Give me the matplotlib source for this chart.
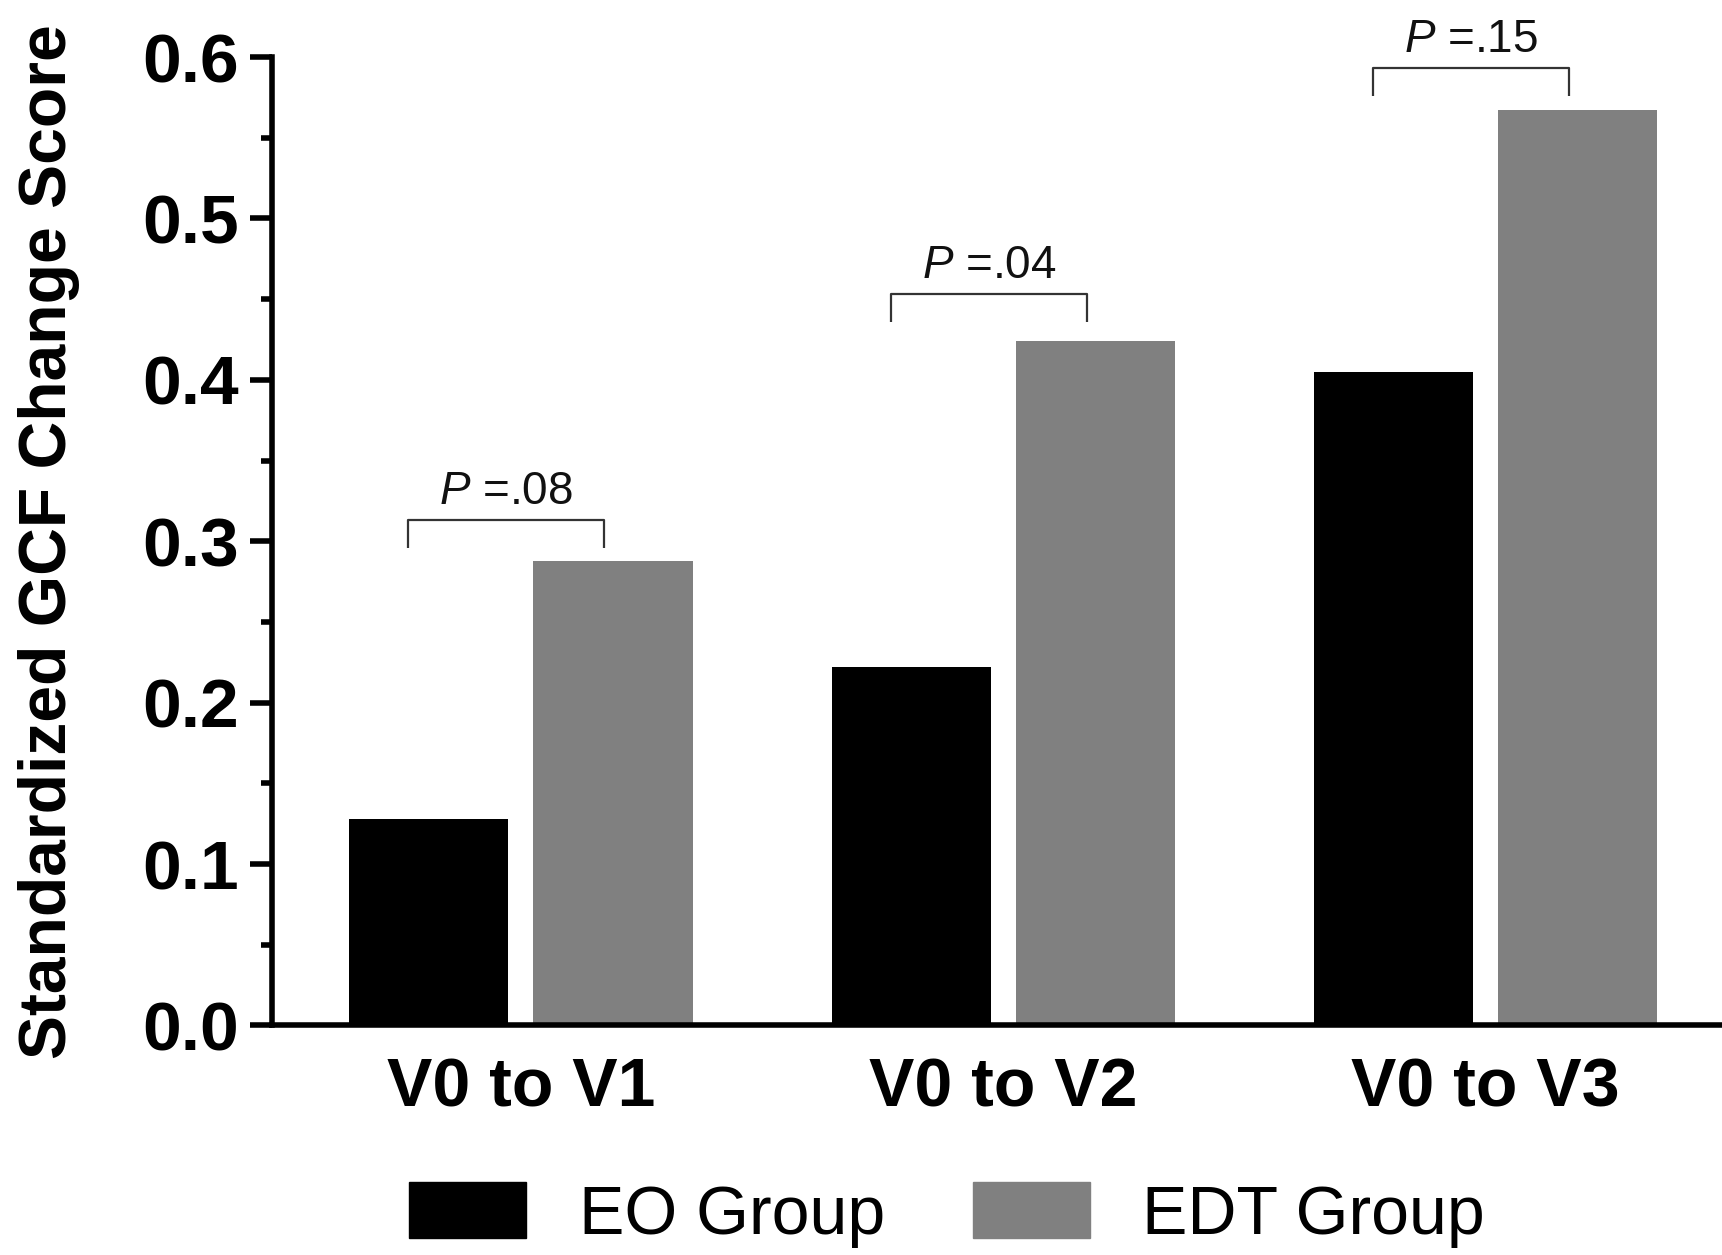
import numpy as np
import matplotlib
matplotlib.use('Agg')
import matplotlib.pyplot as plt
from matplotlib.ticker import MultipleLocator
from matplotlib.patches import Patch

plt.rcParams['font.family'] = ['Liberation Sans', 'DejaVu Sans']
plt.rcParams['mathtext.fontset'] = 'custom'
plt.rcParams['mathtext.it'] = 'Liberation Sans:italic'
plt.rcParams['mathtext.rm'] = 'Liberation Sans'

groups = ['V0 to V1', 'V0 to V2', 'V0 to V3']
eo_values = [0.128, 0.222, 0.405]
edt_values = [0.288, 0.424, 0.567]
p_labels = ['.08', '.04', '.15']
bracket_tops = [0.313, 0.453, 0.593]
y_ticks = [0.0, 0.1, 0.2, 0.3, 0.4, 0.5, 0.6]

fig = plt.figure(figsize=(17.22, 12.55), dpi=100)
ax = fig.add_axes([0.1582, 0.1829, 0.8418, 0.7716])

x = np.arange(len(groups))
bar_width = 0.33
offset = 0.191

ax.bar(x - offset, eo_values, width=bar_width, color='black', label='EO Group')
ax.bar(x + offset, edt_values, width=bar_width, color='#808080', label='EDT Group')

# significance brackets
for xi, top, p in zip(x, bracket_tops, p_labels):
    left = xi - 0.233
    right = xi + 0.173
    drop = 0.017
    ax.plot([left, left, right, right], [top - drop, top, top, top - drop],
            color='#333333', lw=1.6, solid_capstyle='butt')
    ax.text((left + right) / 2, top + 0.004, r'$\mathit{P}$ =' + p,
            ha='center', va='bottom', fontsize=33, color='#111111')

ax.set_xlim(-0.515, 2.49)
ax.set_ylim(0, 0.6)
ax.set_xticks(x)
ax.set_xticklabels(groups, fontsize=49, fontweight='bold')
ax.set_yticks(y_ticks)
ax.yaxis.set_minor_locator(MultipleLocator(0.05))
ax.set_yticklabels([f'{v:.1f}' for v in y_ticks], fontsize=50, fontweight='bold')

ax.spines['top'].set_visible(False)
ax.spines['right'].set_visible(False)
ax.spines['left'].set_linewidth(4)
ax.spines['bottom'].set_linewidth(4)
ax.tick_params(axis='y', which='major', length=16, width=4, pad=8)
ax.tick_params(axis='y', which='minor', length=8, width=4)
ax.tick_params(axis='x', length=0, pad=22)

ax.set_ylabel('Standardized GCF Change Score', fontsize=47.5, fontweight='bold')
ax.yaxis.set_label_coords(-0.133, 0.5)

handles = [Patch(color='black'), Patch(color='#808080')]
fig.legend(handles, ['EO Group', 'EDT Group'], loc='center', bbox_to_anchor=(0.55, 0.032),
           ncol=2, frameon=False, fontsize=49, handlelength=1.72, handleheight=0.89,
           handletextpad=0.77, columnspacing=1.29)

plt.savefig('out.png', dpi=100)
